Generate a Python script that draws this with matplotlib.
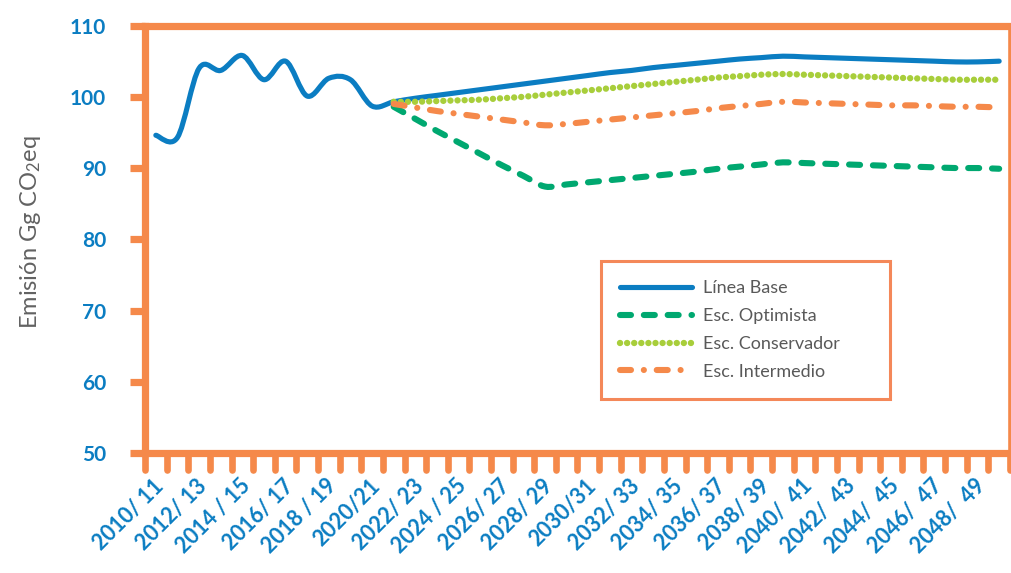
import numpy as np
import matplotlib
matplotlib.use("Agg")
import matplotlib.pyplot as plt
from matplotlib.path import Path
from matplotlib.patches import PathPatch
from matplotlib.lines import Line2D
from matplotlib.transforms import ScaledTranslation

plt.rcParams['font.family'] = ['Lato', 'DejaVu Sans']
plt.rcParams['mathtext.default'] = 'regular'

# categorias (años) y etiquetas visibles del eje x
years = list(range(2010, 2050))
tick_labels = ["2010/ 11", "2012/ 13", "2014 / 15", "2016/ 17", "2018 / 19",
               "2020/21", "2022/ 23", "2024 / 25", "2026/ 27", "2028/ 29",
               "2030/31", "2032/ 33", "2034/ 35", "2036/ 37", "2038/ 39",
               "2040/  41", "2042/  43", "2044/  45", "2046/  47", "2048/  49"]

# series (Gg CO2eq)
linea_base = [94.6, 94.3, 104.0, 103.7, 105.8, 102.4, 105.0, 100.1, 102.6, 102.4,
              98.7, 99.3, 99.8, 100.2, 100.6, 101.0, 101.4, 101.8, 102.2, 102.6,
              103.0, 103.4, 103.7, 104.1, 104.4, 104.7, 105.0, 105.3, 105.5, 105.7,
              105.6, 105.5, 105.4, 105.3, 105.2, 105.1, 105.0, 104.9, 104.9, 105.0]
# escenarios desde 2021
optimista = [98.6, 96.9, 95.2, 93.6, 92.0, 90.4, 88.9, 87.4, 87.7, 88.0,
             88.3, 88.6, 88.9, 89.2, 89.5, 89.9, 90.2, 90.5, 90.8, 90.7,
             90.6, 90.5, 90.4, 90.3, 90.2, 90.1, 90.0, 90.0, 89.9]
conservador = [99.3, 99.3, 99.4, 99.5, 99.6, 99.8, 100.0, 100.3, 100.6, 100.9,
               101.2, 101.5, 101.8, 102.1, 102.4, 102.7, 102.9, 103.1, 103.2, 103.1,
               103.0, 102.9, 102.8, 102.7, 102.6, 102.5, 102.4, 102.4, 102.4]
intermedio = [99.0, 98.5, 98.0, 97.6, 97.2, 96.8, 96.4, 96.0, 96.2, 96.5,
              96.8, 97.1, 97.4, 97.7, 98.0, 98.4, 98.7, 99.0, 99.3, 99.2,
              99.1, 99.0, 98.9, 98.8, 98.8, 98.7, 98.6, 98.6, 98.5]

orange = '#F5894A'
blue = '#0B7DC2'


def smooth_path(x, y):
    # curva suavizada (Catmull-Rom -> Bezier) como la de Excel
    p = np.column_stack([x, y]).astype(float)
    ext = np.vstack([p[0], p, p[-1]])
    verts = [p[0]]
    codes = [Path.MOVETO]
    for i in range(1, len(ext) - 2):
        c1 = ext[i] + (ext[i + 1] - ext[i - 1]) / 6.0
        c2 = ext[i + 1] - (ext[i + 2] - ext[i]) / 6.0
        verts += [c1, c2, ext[i + 1]]
        codes += [Path.CURVE4] * 3
    return Path(verts, codes)


fig = plt.figure(figsize=(10.12, 5.73), dpi=100)
ax = fig.add_axes([0.1433, 0.2094, 0.8547, 0.746])

xi = np.arange(len(years))
xe = np.arange(11, len(years))

series = [
    (xi, linea_base, blue, 3.7, '-', 'Línea Base'),
    (xe, optimista, '#00A870', 4.4, (0, (1.8, 2.1)), 'Esc. Optimista'),
    (xe, conservador, '#A8CE3B', 4.6, (0, (0.01, 1.1)), 'Esc. Conservador'),
    (xe, intermedio, orange, 4.4, (0, (1.8, 2.1, 0.01, 2.1)), 'Esc. Intermedio'),
]
handles = []
for xs, ys, c, lw, ls, lab in series:
    patch = PathPatch(smooth_path(xs, ys), fill=False, edgecolor=c, lw=lw,
                      linestyle=ls, capstyle='round', joinstyle='round', zorder=3)
    ax.add_patch(patch)
    handles.append(Line2D([], [], color=c, lw=lw, linestyle=ls,
                          dash_capstyle='round', solid_capstyle='round', label=lab))

ax.set_xlim(-0.5, len(years) - 0.5)
ax.set_ylim(50, 110)

# ejes
for s in ['left', 'bottom', 'top']:
    ax.spines[s].set_color(orange)
    ax.spines[s].set_linewidth(5.2)
ax.spines['right'].set_color(orange)
ax.spines['right'].set_linewidth(2.6)

ax.set_yticks(range(50, 111, 10))
ax.tick_params(axis='y', length=11, width=5.2, color=orange, pad=17,
               labelsize=15, labelcolor=blue)
for lbl in ax.get_yticklabels():
    lbl.set_fontweight('bold')

ax.set_xticks(xi[::2])
ax.set_xticklabels(tick_labels, rotation=45, ha='right', va='top',
                   rotation_mode='anchor', fontsize=15.5, fontweight='bold', color=blue)
ax.tick_params(axis='x', length=0, pad=16)
for lbl in ax.get_xticklabels():
    lbl.set_transform(lbl.get_transform() + ScaledTranslation(-2 / 72, 0, fig.dpi_scale_trans))

# marcas entre categorias
ax.vlines(np.arange(-0.5, len(years), 1), 0, -0.04, transform=ax.get_xaxis_transform(),
          colors=orange, lw=4.8, capstyle='round', clip_on=False, zorder=5)

fig.text(31 / 1012, 0.595, 'Emisión Gg CO$_2$eq', rotation=90, ha='center', va='center',
         fontsize=17, color='#626262')

leg = ax.legend(handles=handles, loc='upper left',
                bbox_to_anchor=(0.527, 0.124, 0.334, 0.325), mode='expand',
                frameon=True, fancybox=False, fontsize=13, handlelength=4.0,
                handletextpad=0.6, labelspacing=0.66, borderpad=1.05,
                borderaxespad=0)
leg.get_frame().set_edgecolor('#F26B2F')
leg.get_frame().set_linewidth(2.2)
for t in leg.get_texts():
    t.set_color('#595959')

fig.savefig('out.png', dpi=100)
